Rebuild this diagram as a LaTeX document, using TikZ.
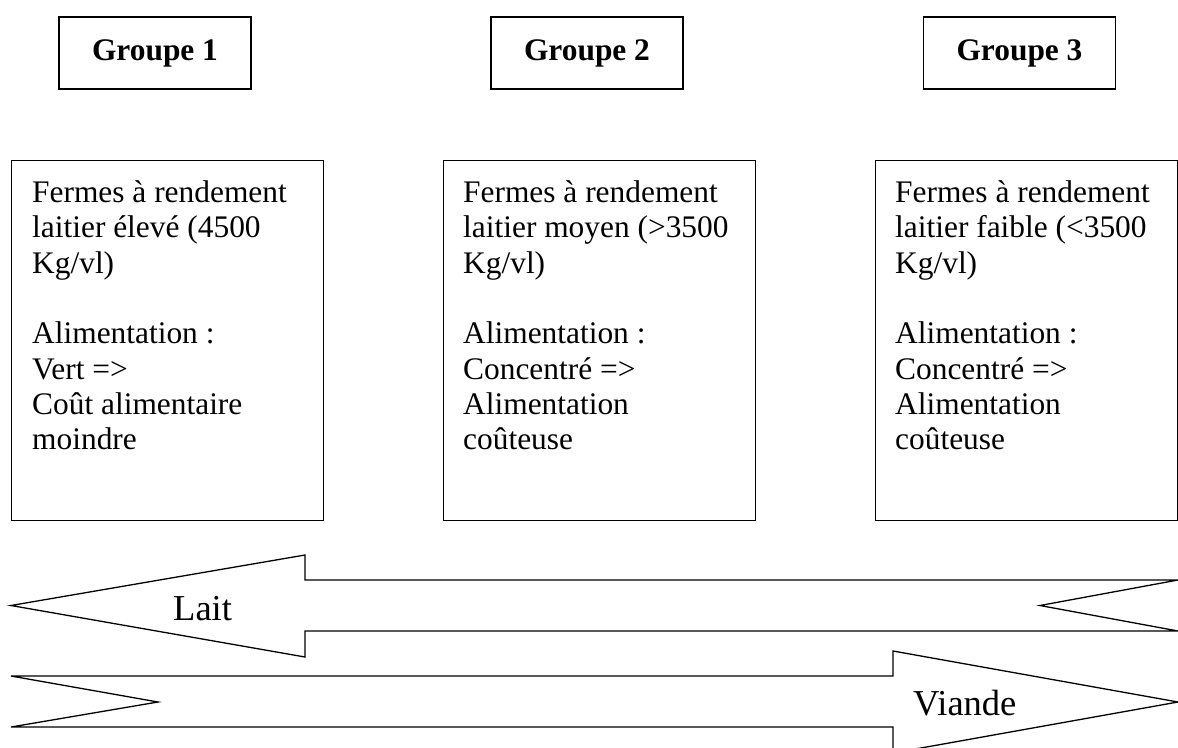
\documentclass[tikz,border=0pt]{standalone}
\usepackage{fontspec}
\setmainfont{Liberation Serif}
\begin{document}
\begin{tikzpicture}[x=1pt,y=-1pt,
    groupe/.style={draw, line width=1.8pt, minimum width=192pt, minimum height=72pt, inner sep=0pt, font=\fontsize{31.4}{36}\selectfont\bfseries},
    ferme/.style={draw, line width=1.4pt, anchor=north west, minimum height=360pt, inner sep=0pt},
    texte/.style={anchor=north west, inner sep=0pt, align=left, font=\fontsize{31.4}{35.3}\selectfont},
    fleche/.style={draw, line width=1.3pt, line join=miter},
    etiquette/.style={anchor=base west, inner sep=0pt, font=\fontsize{36.5}{40}\selectfont}]
  \useasboundingbox (0,0) rectangle (1178,747);
  \clip (0,0) rectangle (1178,747);

  \node[groupe] (G1) at (155,53) {Groupe 1};
  \node[groupe] (G2) at (587,53) {Groupe 2};
  \node[groupe] (G3) at (1019.5,53) {Groupe 3};

  \node[ferme, minimum width=312pt] (F1) at (11,160) {};
  \node[ferme, minimum width=312pt] (F2) at (443,160) {};
  \node[ferme, minimum width=302pt] (F3) at (875,160) {};

  \node[texte] (T1) at ([xshift=21pt,yshift=-20.6pt]F1.north west)
    {Fermes à rendement\\ laitier élevé (4500\\ Kg/vl)\\[35.3pt] Alimentation :\\ Vert =>\\ Coût alimentaire\\ moindre};
  \node[texte] (T2) at ([xshift=20pt,yshift=-20.6pt]F2.north west)
    {Fermes à rendement\\ laitier moyen (>3500\\ Kg/vl)\\[35.3pt] Alimentation :\\ Concentré =>\\ Alimentation\\ coûteuse};
  \node[texte] (T3) at ([xshift=20pt,yshift=-20.6pt]F3.north west)
    {Fermes à rendement\\ laitier faible (<3500\\ Kg/vl)\\[35.3pt] Alimentation :\\ Concentré =>\\ Alimentation\\ coûteuse};

  % fleche lait
  \draw[fleche] (1178,580) -- (305,580) -- (305,555) -- (11,605.5) -- (305,657)
    -- (305,631) -- (1178,631) -- (1040,605.5) -- cycle;
  % fleche viande
  \draw[fleche] (11,676) -- (893,676) -- (893,651) -- (1178,702) -- (893,753)
    -- (893,727) -- (11,727) -- (158,702) -- cycle;

  \node[etiquette] (lait) at (173,620) {Lait};
  \node[etiquette] (viande) at (913,715) {Viande};
\end{tikzpicture}
\end{document}
